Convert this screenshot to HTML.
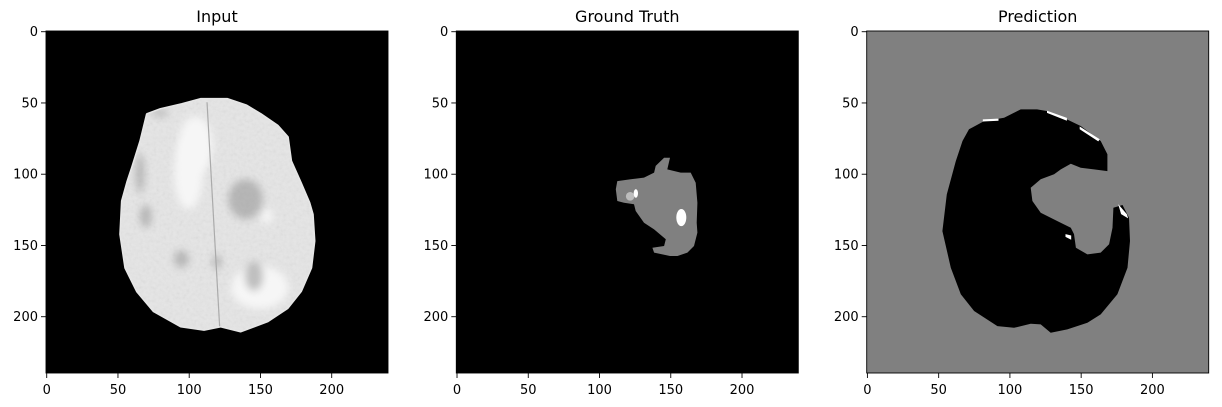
<!DOCTYPE html>
<html><head><meta charset="utf-8"><style>
html,body{margin:0;padding:0;background:#fff}
svg{display:block}
text{font-family:"DejaVu Sans","Liberation Sans",sans-serif;fill:#000}
</style></head><body>
<svg id="fig" width="1222" height="407" viewBox="0 0 1222 407" xmlns="http://www.w3.org/2000/svg">
<defs>
<filter id="blur1" x="-100%" y="-100%" width="300%" height="300%"><feGaussianBlur stdDeviation="2"/></filter>
<filter id="blur2" x="-100%" y="-100%" width="300%" height="300%"><feGaussianBlur stdDeviation="4"/></filter>
<filter id="noise" x="0" y="0" width="100%" height="100%">
<feTurbulence type="fractalNoise" baseFrequency="0.3" numOctaves="2" seed="3" result="t"/>
<feColorMatrix type="saturate" values="0"/>
</filter>
</defs>
</svg>
<script>
// ---- data (image coordinates, 240x240 pixel grid) ----
const panelTitles = ["Input", "Ground Truth", "Prediction"];
const tickValues = [0, 50, 100, 150, 200];
const imageSize = 240;
const brainOutline = [[70.6,58],[80,54.5],[95,51],[108,47.5],[126.8,47.5],[140,52],[150,58],[161.9,66.2],[168.9,74],[171.2,90.8],[178,106],[184,120],[186.4,128.2],[187.6,146.9],[185.3,165.6],[178.2,182],[168.9,193.7],[154.9,203],[136.1,210],[122.1,206.5],[110.4,208.9],[94,206.5],[75.3,196],[63.6,182],[55.4,165.6],[51.9,142.2],[53.1,118.8],[57,105],[60.1,95.4],[66,76.7]];
const brainDarkSpots = [[95,160,5,6],[120,162,3,5],[146,172,6,10],[140,118,12,14],[66,100,3,14],[80,57,6,3],[70,130,4,8]];
const brainLightSpots = [[80,55,6,3],[155,130,4,5],[100,100,10,25],[150,180,20,15],[105,80,12,20]];
const truthOutline = [[112.5,104.8],[121.9,103.6],[131.2,102.4],[138.3,98.9],[139.4,94.2],[145.3,88.4],[149.5,88.4],[147.6,96.6],[157,98.9],[164,98.9],[167.5,106],[168.7,120],[168.2,134],[168.7,141],[166.3,150.4],[161.7,155],[154.7,157.4],[149.5,157.4],[138.3,155],[137.1,151.6],[145.3,150.4],[146.5,145.7],[138.3,138.7],[131.2,134],[125.4,125.8],[124.2,121.1],[117.2,120],[112.5,118.8],[111.4,110.6]];
const truthSpots = [[157.9,130.9,3.5,6,"#ffffff"],[122,116,3,3,"#bdbdbd"],[126,114,1.5,3,"#ffffff"]];
const predOutline = [[107.6,54.5],[119,54.5],[126.3,55.7],[140,61.5],[149.7,66.2],[163.7,76.7],[168.4,86],[168.4,97.8],[159,96.6],[149.7,95.4],[142.7,92.6],[135.7,96.6],[131,100],[121.6,103.6],[114.6,109.5],[115.8,118.8],[121.6,127],[133.3,132.9],[142.7,137.5],[145,142],[146.3,151.6],[154.4,156.3],[163.7,155],[169.6,149.2],[172,137.5],[172.6,123.5],[179,121.6],[183.6,130.5],[184.3,146.9],[182.5,165.6],[175.4,184.3],[163.7,198.4],[154.4,204.2],[140.3,208.9],[128.6,211.2],[121.6,205.4],[114.6,205],[102.9,207.8],[91.2,206.6],[74.9,196],[65.5,184.3],[58.5,165.6],[52.6,139.9],[55.7,114.2],[62,90.8],[66.7,76.7],[71.3,68.5],[81.9,62.7],[95.9,60.4],[102.9,56.9]];
const predWhiteMarks = [[[81,61.5],[92,61],[92,62.5],[81,63]],[[126,55.5],[140,60.5],[140,62.5],[126,57]],[[149,66.5],[163,75.5],[162,77],[149,68.5]],[[176,121],[182,128],[183,131],[178,128]],[[139,142],[143,143],[143,146],[139,144]]];

// ---- layout ----
const NS = "http://www.w3.org/2000/svg";
const svg = document.getElementById("fig");
const panelLefts = [46, 456.3, 866.7];
const top0 = 31, sc = 1.425;
function mk(tag, attrs, parent) { const e = document.createElementNS(NS, tag); for (const k in attrs) e.setAttribute(k, attrs[k]); (parent || svg).appendChild(e); return e; }
function pts(arr, L) { return arr.map(p => (L + (p[0] + 0.5) * sc).toFixed(1) + "," + (top0 + (p[1] + 0.5) * sc).toFixed(1)).join(" "); }
const W = imageSize * sc;

panelLefts.forEach((L, i) => {
  const g = mk("g", {});
  
  
  const clipId = "clip" + i;
  const cp = mk("clipPath", { id: clipId }, g);
  mk("rect", { x: L, y: top0, width: W, height: W }, cp);
  const img = mk("g", { "clip-path": "url(#" + clipId + ")" }, g);
  
  
  mk("rect", { x: L, y: top0, width: W, height: W, fill: i === 2 ? "#808080" : "#000" }, img);
  if (i === 0) {
    const b = mk("polygon", { points: pts(brainOutline, L), fill: "#e6e6e6", "stroke": "#e6e6e6", "stroke-width": 3, "stroke-linejoin": "round" }, img);
    
    
    const cp2 = mk("clipPath", { id: "brainclip" }, g);
    mk("polygon", { points: pts(brainOutline, L) }, cp2);
    const tex = mk("g", { "clip-path": "url(#brainclip)" }, img);
    mk("rect", { x: L, y: top0, width: W, height: W, filter: "url(#noise)", opacity: 0.15 }, tex);
    brainLightSpots.forEach(s => mk("ellipse", { cx: L + s[0] * sc, cy: top0 + s[1] * sc, rx: s[2] * sc, ry: s[3] * sc, fill: "#f6f6f6", filter: "url(#blur2)" }, tex));
    brainDarkSpots.forEach(s => mk("ellipse", { cx: L + s[0] * sc, cy: top0 + s[1] * sc, rx: s[2] * sc, ry: s[3] * sc, fill: "#909090", opacity: 0.55, filter: "url(#blur2)" }, tex));
    mk("line", { x1: L + 113 * sc, y1: top0 + 50 * sc, x2: L + 122 * sc, y2: top0 + 210 * sc, stroke: "#aaa", "stroke-width": 1.2 }, tex);
  } else if (i === 1) {
    const t = mk("polygon", { points: pts(truthOutline, L), fill: "#808080" }, img);
    
    
    truthSpots.forEach(s => mk("ellipse", { cx: L + s[0] * sc, cy: top0 + s[1] * sc, rx: s[2] * sc, ry: s[3] * sc, fill: s[4] }, img));
  } else {
    const p = mk("polygon", { points: pts(predOutline, L), fill: "#000" }, img);
    
    
    predWhiteMarks.forEach(m => mk("polygon", { points: pts(m, L), fill: "#fff" }, img));
  }
  mk("rect", { x: L, y: top0, width: W, height: W, fill: "none", stroke: "#000", "stroke-width": 0.9 }, g);
  const tt = mk("text", { x: L + W / 2, y: 22, "font-size": 16, "text-anchor": "middle" }, g);
  tt.textContent = panelTitles[i];
  
  
  tickValues.forEach(v => {
    const px = L + (v + 0.5) * sc, py = top0 + (v + 0.5) * sc;
    mk("line", { x1: px, y1: top0 + W, x2: px, y2: top0 + W + 5, stroke: "#000", "stroke-width": 0.9 }, g);
    const xl = mk("text", { x: px, y: top0 + W + 21, "font-size": 13, "text-anchor": "middle" }, g);
    xl.textContent = v;
    
    
    mk("line", { x1: L - 5, y1: py, x2: L, y2: py, stroke: "#000", "stroke-width": 0.9 }, g);
    const yl = mk("text", { x: L - 8, y: py + 4.5, "font-size": 13, "text-anchor": "end" }, g);
    yl.textContent = v;
    
    
  });
});
</script>
</body></html>
